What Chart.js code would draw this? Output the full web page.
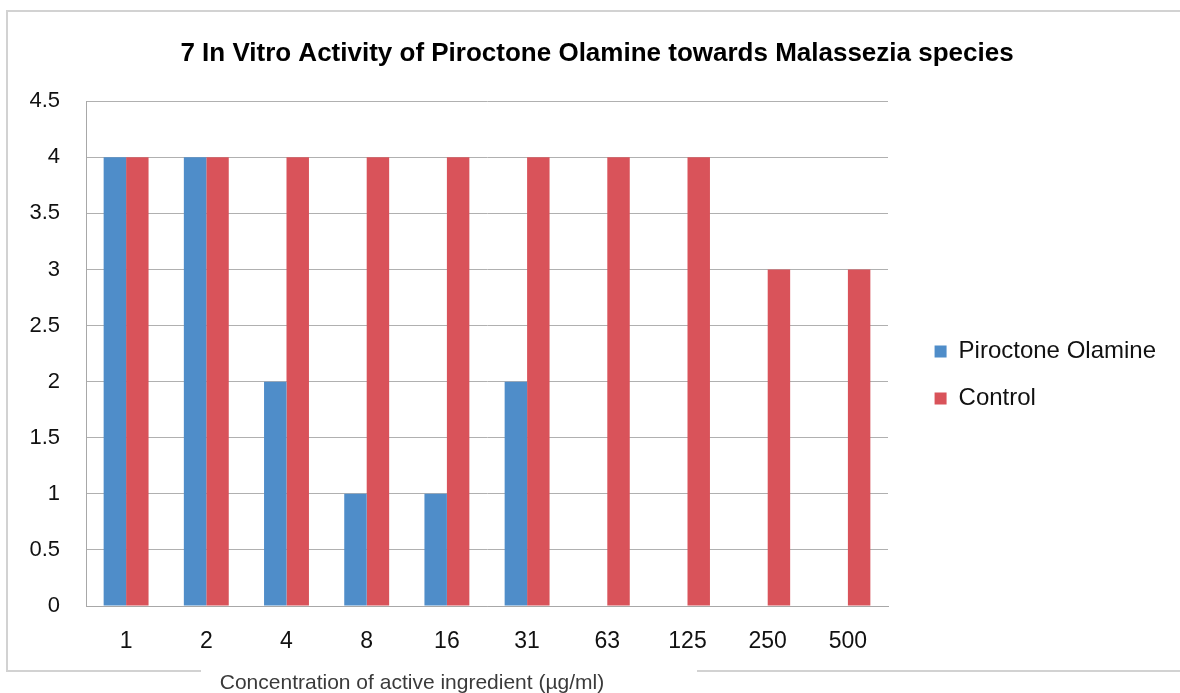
<!DOCTYPE html>
<html>
<head>
<meta charset="utf-8">
<script src="https://cdn.jsdelivr.net/npm/chart.js@4/dist/chart.umd.min.js"></script>
<style>
  html, body { margin: 0; padding: 0; background: #ffffff; }
  #wrap { position: relative; width: 1180px; height: 693px; }
</style>
</head>
<body>
<div id="wrap"><canvas id="c" width="1180" height="693"></canvas></div>
<script>
const categories = ["1", "2", "4", "8", "16", "31", "63", "125", "250", "500"];
const piroctoneOlamine = [4, 4, 2, 1, 1, 2, 0, 0, 0, 0];
const control = [4, 4, 4, 4, 4, 4, 4, 4, 3, 3];
const seriesNames = ["Piroctone Olamine", "Control"];
const titleText = "7 In Vitro Activity of Piroctone Olamine towards Malassezia species";
const xAxisTitle = "Concentration of active ingredient (µg/ml)";

const FONT = "'Liberation Sans', Arial, sans-serif";
const LEGEND_SIZE = 24;
const LEGEND_PAD = 23;
const LEGEND_BOX = 12;
const PAD_RIGHT = 14;
const PAD_LEFT = 28;

// measure legend text to reserve the right space
const mctx = document.createElement('canvas').getContext('2d');
mctx.font = "normal " + LEGEND_SIZE + "px " + FONT;
const maxW = Math.max(...seriesNames.map(s => mctx.measureText(s).width));
const legendWidth = LEGEND_PAD + LEGEND_BOX + LEGEND_SIZE / 2 + maxW + 10;
const GAP = Math.max(0, 1180 - 888 - PAD_RIGHT - legendWidth);

const framePlugin = {
  id: 'frame',
  beforeDraw(chart) {
    const ctx = chart.ctx;
    ctx.save();
    ctx.fillStyle = '#ffffff';
    ctx.fillRect(0, 0, chart.width, chart.height);
    ctx.strokeStyle = '#d2d2d2';
    ctx.lineWidth = 2;
    ctx.strokeRect(7, 11, 1200, 660);
    ctx.fillStyle = '#ffffff';
    ctx.fillRect(201, 662, 496, 31);
    ctx.restore();
  },
  afterDraw(chart) {
    const ctx = chart.ctx;
    ctx.save();
    ctx.font = "21px " + FONT;
    ctx.fillStyle = '#3a3a3a';
    ctx.textAlign = 'center';
    ctx.textBaseline = 'middle';
    ctx.fillText(xAxisTitle, 412, 683);
    ctx.restore();
  }
};

Chart.defaults.font.family = FONT;
Chart.defaults.color = '#111111';

new Chart(document.getElementById('c'), {
  type: 'bar',
  data: {
    labels: categories,
    datasets: [
      { label: seriesNames[0], data: piroctoneOlamine, backgroundColor: '#4F8DC9', borderWidth: 0 },
      { label: seriesNames[1], data: control, backgroundColor: '#D9535A', borderWidth: 0 }
    ]
  },
  options: {
    responsive: false,
    animation: false,
    layout: { padding: { left: PAD_LEFT, right: PAD_RIGHT, top: 0, bottom: 40 } },
    datasets: { bar: { categoryPercentage: 0.56, barPercentage: 1.0 } },
    scales: {
      x: {
        grid: { display: false, drawTicks: false },
        border: { display: true, color: '#a8a8a8', width: 1 },
        ticks: { font: { size: 23 }, color: '#111111', padding: 22, maxRotation: 0 },
        afterFit(s) { s.height = 47; }
      },
      y: {
        min: 0, max: 4.5,
        ticks: {
          stepSize: 0.5, font: { size: 22 }, color: '#111111', padding: 26,
          callback: (v) => String(Number(v))
        },
        grid: { color: '#b0b0b0', drawTicks: false, lineWidth: 1 },
        border: { display: true, color: '#a8a8a8', width: 1 },
        afterFit(s) { s.width = 86 - PAD_LEFT; }
      },
      gap: {
        type: 'linear', position: 'right', display: true,
        grid: { display: false }, border: { display: false }, ticks: { display: false },
        afterFit(s) { s.width = GAP; }
      }
    },
    plugins: {
      title: {
        display: true,
        text: titleText,
        color: '#000000',
        font: { size: 26, weight: 'bold' },
        padding: { top: 38, bottom: 32 }
      },
      legend: {
        display: true,
        position: 'right',
        align: 'center',
        fullSize: false,
        maxWidth: 400,
        title: { display: true, text: '', padding: 15.5, font: { size: 10 } },
        labels: {
          boxWidth: LEGEND_BOX, boxHeight: LEGEND_BOX,
          padding: LEGEND_PAD,
          font: { size: LEGEND_SIZE },
          color: '#111111'
        }
      },
      tooltip: { enabled: false }
    }
  },
  plugins: [framePlugin]
});
</script>
</body>
</html>
